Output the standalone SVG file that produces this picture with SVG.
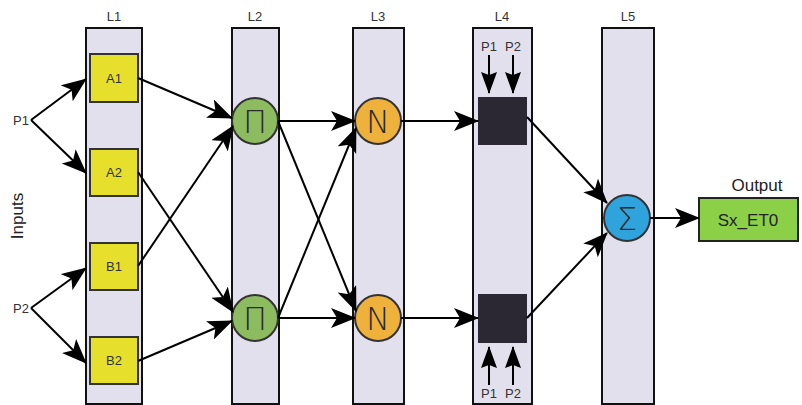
<svg xmlns="http://www.w3.org/2000/svg" width="802" height="405" viewBox="0 0 802 405">
<defs>
<marker id="arr" markerUnits="userSpaceOnUse" markerWidth="28" markerHeight="24" refX="24" refY="10" orient="auto">
<path d="M0,0 L25,10 L0,20 L6,10 z" fill="#000"/>
</marker>
<marker id="arrs" markerUnits="userSpaceOnUse" markerWidth="24" markerHeight="20" refX="21" refY="8" orient="auto">
<path d="M0,0 L22,8 L0,16 L3,8 z" fill="#000"/>
</marker>
</defs>
<style>
.col{fill:#e3e0ee;stroke:#111;stroke-width:2}
.lbl{font-family:"Liberation Sans",Arial,sans-serif;font-size:13px;fill:#333;text-anchor:middle}
.big{font-family:"Liberation Sans",Arial,sans-serif;font-size:17px;fill:#222;text-anchor:middle}
.box{fill:#e6df2b;stroke:#333;stroke-width:2}
.btxt{font-family:"Liberation Sans",Arial,sans-serif;font-size:13px;fill:#333;text-anchor:middle}
.sym{font-family:"DejaVu Sans","Liberation Sans",sans-serif;font-size:32px;font-weight:200;fill:#2a2a2a;text-anchor:middle}
.conn line{stroke:#000;stroke-width:2;fill:none}
.blk{fill:#2b2733}
</style>
<rect width="802" height="405" fill="#fff"/>

<g id="layers">
<g id="L1"><rect class="col" x="86" y="28" width="56" height="376"/><text class="lbl" x="114" y="21">L1</text></g>
<g id="L2"><rect class="col" x="232" y="28" width="47" height="376"/><text class="lbl" x="255" y="21">L2</text></g>
<g id="L3"><rect class="col" x="353" y="28" width="51" height="376"/><text class="lbl" x="378" y="21">L3</text></g>
<g id="L4"><rect class="col" x="473" y="28" width="59" height="376"/><text class="lbl" x="502" y="21">L4</text></g>
<g id="L5"><rect class="col" x="602" y="28" width="52" height="376"/><text class="lbl" x="628" y="21">L5</text></g>
</g>

<g id="inputs">
<text class="lbl" x="21" y="125">P1</text>
<text class="lbl" x="21" y="313">P2</text>
<text class="big" x="0" y="0" transform="translate(23,216) rotate(-90)">Inputs</text>
</g>

<g id="A1"><rect class="box" x="90" y="54" width="48" height="48"/><text class="btxt" x="114" y="83">A1</text></g>
<g id="A2"><rect class="box" x="90" y="149" width="48" height="47"/><text class="btxt" x="114" y="177">A2</text></g>
<g id="B1"><rect class="box" x="90" y="243" width="48" height="47"/><text class="btxt" x="114" y="271">B1</text></g>
<g id="B2"><rect class="box" x="90" y="337" width="48" height="47"/><text class="btxt" x="114" y="365">B2</text></g>

<g id="prod1"><circle cx="255" cy="121" r="23" fill="#8dbb5f" stroke="#333" stroke-width="2"/><text class="sym" x="255" y="133">Π</text></g>
<g id="prod2"><circle cx="255" cy="318" r="23" fill="#8dbb5f" stroke="#333" stroke-width="2"/><text class="sym" x="255" y="330">Π</text></g>
<g id="norm1"><circle cx="378" cy="121" r="23" fill="#eeb13c" stroke="#333" stroke-width="2"/><text class="sym" x="378" y="133">N</text></g>
<g id="norm2"><circle cx="378" cy="318" r="23" fill="#eeb13c" stroke="#333" stroke-width="2"/><text class="sym" x="378" y="330">N</text></g>

<g id="cons1"><rect class="blk" x="478" y="97" width="49" height="48"/>
<text class="btxt" x="489" y="51">P1</text><text class="btxt" x="513" y="51">P2</text></g>
<g id="cons2"><rect class="blk" x="478" y="294" width="49" height="49"/>
<text class="btxt" x="489" y="398">P1</text><text class="btxt" x="513" y="398">P2</text></g>

<g id="sum"><circle cx="627" cy="218" r="23" fill="#2fa4dc" stroke="#333" stroke-width="2"/><text class="sym" x="627" y="230">Σ</text></g>

<g id="output"><text class="big" x="757" y="191">Output</text>
<rect x="699" y="198" width="99" height="43" fill="#8cd048" stroke="#222" stroke-width="2"/>
<text class="big" x="748" y="226">Sx_ET0</text></g>

<g class="conn" id="connectors">
<line x1="31" y1="120" x2="86" y2="79" marker-end="url(#arr)"/>
<line x1="31" y1="120" x2="86" y2="173" marker-end="url(#arr)"/>
<line x1="31" y1="308" x2="86" y2="268" marker-end="url(#arr)"/>
<line x1="31" y1="308" x2="86" y2="363" marker-end="url(#arr)"/>
<line x1="138" y1="78" x2="232" y2="118" marker-end="url(#arr)"/>
<line x1="138" y1="266" x2="233" y2="126" marker-end="url(#arr)"/>
<line x1="138" y1="172" x2="233" y2="312" marker-end="url(#arr)"/>
<line x1="138" y1="361" x2="232" y2="321" marker-end="url(#arr)"/>
<line x1="278" y1="121" x2="355" y2="121" marker-end="url(#arr)"/>
<line x1="278" y1="121" x2="356" y2="311" marker-end="url(#arr)"/>
<line x1="278" y1="318" x2="356" y2="128" marker-end="url(#arr)"/>
<line x1="278" y1="318" x2="355" y2="318" marker-end="url(#arr)"/>
<line x1="401" y1="121" x2="478" y2="121" marker-end="url(#arr)"/>
<line x1="401" y1="318" x2="478" y2="318" marker-end="url(#arr)"/>
<line x1="527" y1="117" x2="607" y2="203" marker-end="url(#arr)"/>
<line x1="527" y1="318" x2="607" y2="233" marker-end="url(#arr)"/>
<line x1="650" y1="218" x2="699" y2="218" marker-end="url(#arr)"/>
<line x1="489" y1="55" x2="489" y2="93" marker-end="url(#arrs)"/>
<line x1="513" y1="55" x2="513" y2="93" marker-end="url(#arrs)"/>
<line x1="489" y1="385" x2="489" y2="347" marker-end="url(#arrs)"/>
<line x1="513" y1="385" x2="513" y2="347" marker-end="url(#arrs)"/>
</g>
</svg>
